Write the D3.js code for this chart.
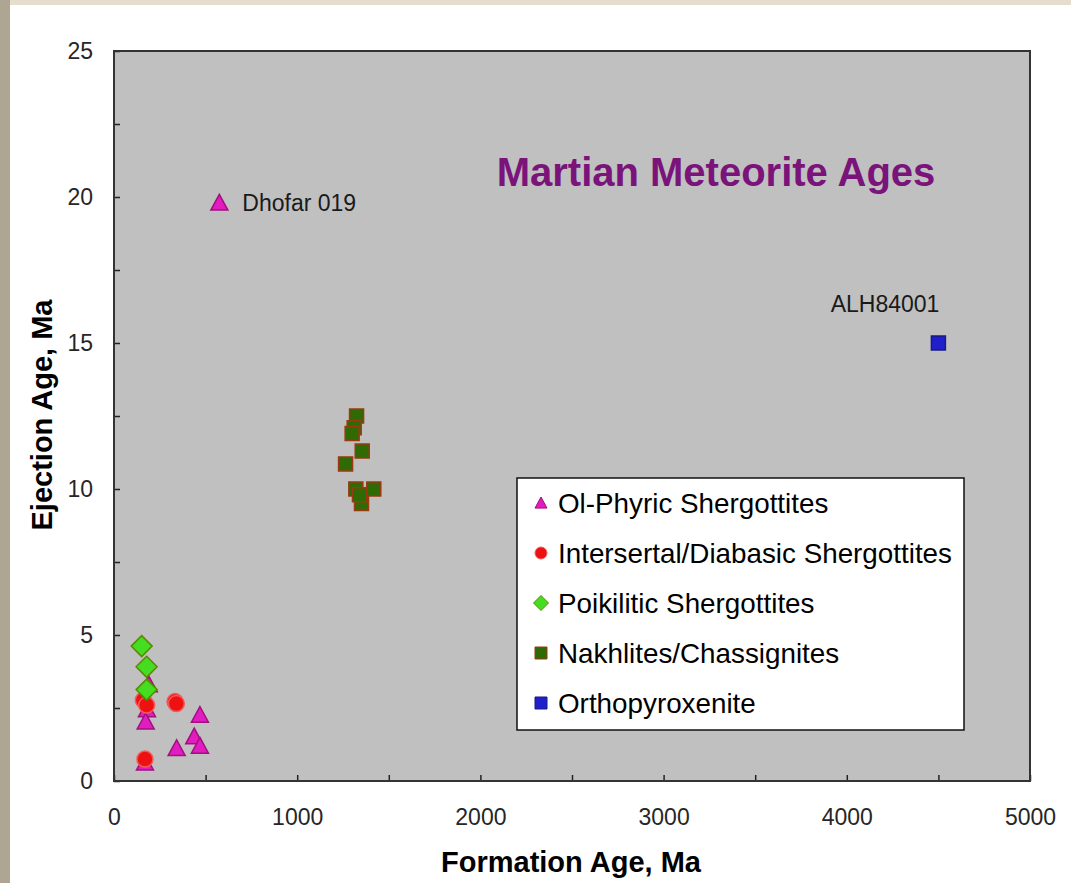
<!DOCTYPE html>
<html>
<head>
<meta charset="utf-8">
<script src="https://cdn.jsdelivr.net/npm/d3@7"></script>
<style>
  html, body { margin: 0; padding: 0; background: #fff; }
  svg { display: block; font-family: "Liberation Sans", Arial, sans-serif; }
</style>
</head>
<body>
<div id="chart"></div>
<script>
// values: [formation age Ma, ejection age Ma]
const olPhyric = [[575, 19.8], [190, 3.3], [180, 2.45], [173, 2.03], [469, 2.26], [342, 1.12], [438, 1.52], [469, 1.2], [169, 0.62]];
const intersertal = [[160, 2.77], [178, 2.6], [333, 2.72], [340, 2.65], [169, 0.75]];
const poikilitic = [[151, 4.62], [178, 3.91], [178, 3.13]];
const nakhlites = [[1324, 12.5], [1311, 12.1], [1300, 11.9], [1355, 11.3], [1264, 10.86], [1320, 10.0], [1418, 10.0], [1351, 9.5], [1340, 9.8]];
const orthopyroxenite = [[4500, 15.0]];

const seriesNames = ['Ol-Phyric Shergottites', 'Intersertal/Diabasic Shergottites', 'Poikilitic Shergottites', 'Nakhlites/Chassignites', 'Orthopyroxenite'];
const xTicks = [0, 500, 1000, 1500, 2000, 2500, 3000, 3500, 4000, 4500, 5000];
const yTicks = [0, 2.5, 5, 7.5, 10, 12.5, 15, 17.5, 20, 22.5, 25];

// named points that get a text label
const pointLabels = [
    {name: 'Dhofar 019', point: olPhyric[0], side: 'right'},
    {name: 'ALH84001', point: orthopyroxenite[0], side: 'above'}
];

const series = [
    {name: seriesNames[0], data: olPhyric, shape: 'triangle', fill: '#e11cc0', stroke: '#a0107e'},
    {name: seriesNames[1], data: intersertal, shape: 'circle', fill: '#ee1111', stroke: '#f45a5a'},
    {name: seriesNames[2], data: poikilitic, shape: 'diamond', fill: '#44dd22', stroke: '#5a8a00'},
    {name: seriesNames[3], data: nakhlites, shape: 'square', fill: '#2f6a04', stroke: '#9a3a10'},
    {name: seriesNames[4], data: orthopyroxenite, shape: 'square', fill: '#1f1fcc', stroke: '#1a1a80'}
];

const width = 1071, height = 883;
const margin = {top: 51, right: 41, bottom: 102, left: 114};
const innerW = width - margin.left - margin.right;
const innerH = height - margin.top - margin.bottom;

const svg = d3.select('#chart').append('svg')
    .attr('width', width)
    .attr('height', height);

// slide background strips
svg.append('rect').attr('x', 0).attr('y', 0).attr('width', width).attr('height', 5).attr('fill', '#e5dece');
svg.append('rect').attr('x', 0).attr('y', 0).attr('width', 10).attr('height', height).attr('fill', '#aea693');

const chart = svg.append('g')
    .attr('transform', `translate(${margin.left},${margin.top})`);

const xScale = d3.scaleLinear().domain([0, 5000]).range([0, innerW]);
const yScale = d3.scaleLinear().domain([0, 25]).range([innerH, 0]);

// plot area
chart.append('rect')
    .attr('width', innerW)
    .attr('height', innerH)
    .attr('fill', '#c0c0c0');

// ticks point inward, labels only on major ticks
const xAxis = d3.axisBottom(xScale)
    .tickValues(xTicks)
    .tickSizeInner(-6)
    .tickSizeOuter(0)
    .tickPadding(28)
    .tickFormat(d => d % 1000 === 0 ? d : '');

const yAxis = d3.axisLeft(yScale)
    .tickValues(yTicks)
    .tickSizeInner(-6)
    .tickSizeOuter(0)
    .tickPadding(21)
    .tickFormat(d => d % 5 === 0 ? d : '');

const xAxisG = chart.append('g')
    .attr('transform', `translate(0,${innerH})`)
    .call(xAxis);
const yAxisG = chart.append('g').call(yAxis);

[xAxisG, yAxisG].forEach(g => {
    g.select('.domain').remove();
    g.selectAll('.tick line').attr('stroke', '#222').attr('stroke-width', 1.5);
    g.selectAll('.tick text')
        .attr('font-family', '"Liberation Sans", Arial, sans-serif')
        .attr('font-size', 23)
        .attr('fill', '#262626');
});

// frame
chart.append('rect')
    .attr('width', innerW)
    .attr('height', innerH)
    .attr('fill', 'none')
    .attr('stroke', '#333')
    .attr('stroke-width', 2);

// axis titles
svg.append('text')
    .attr('x', margin.left + innerW / 2 - 1)
    .attr('y', 872)
    .attr('text-anchor', 'middle')
    .attr('font-size', 29)
    .attr('font-weight', 'bold')
    .attr('fill', '#000')
    .text('Formation Age, Ma');

svg.append('text')
    .attr('transform', 'translate(52,415) rotate(-90)')
    .attr('text-anchor', 'middle')
    .attr('font-size', 29)
    .attr('font-weight', 'bold')
    .attr('fill', '#000')
    .text('Ejection Age, Ma');

// title
chart.append('text')
    .attr('x', 716 - margin.left)
    .attr('y', 186 - margin.top)
    .attr('text-anchor', 'middle')
    .attr('font-size', 40)
    .attr('font-weight', 'bold')
    .attr('fill', '#7a137a')
    .text('Martian Meteorite Ages');

function markerPath(shape, size) {
    const h = size / 2;
    if (shape === 'triangle') return `M0,${-h}L${h},${h * 0.85}L${-h},${h * 0.85}Z`;
    if (shape === 'diamond') return `M0,${-h}L${h},0L0,${h}L${-h},0Z`;
    if (shape === 'square') return `M${-h},${-h}H${h}V${h}H${-h}Z`;
    return d3.symbol(d3.symbolCircle, Math.PI * h * h)();
}

const markerSize = {triangle: 17, circle: 16, diamond: 21, square: 14};

// draw the series, nakhlites/orthopyroxenite first, shergottites on top
const drawOrder = [3, 4, 0, 1, 2];
drawOrder.forEach(i => {
    const s = series[i];
    chart.append('g')
        .selectAll('path')
        .data(s.data)
        .join('path')
        .attr('transform', d => `translate(${xScale(d[0])},${yScale(d[1])})`)
        .attr('d', markerPath(s.shape, markerSize[s.shape]))
        .attr('fill', s.fill)
        .attr('stroke', s.stroke)
        .attr('stroke-width', 1.5);
});

// point labels
pointLabels.forEach(l => {
    const px = xScale(l.point[0]), py = yScale(l.point[1]);
    chart.append('text')
        .attr('x', l.side === 'right' ? px + 23 : px + 1)
        .attr('y', l.side === 'right' ? py + 8 : py - 31)
        .attr('text-anchor', l.side === 'right' ? 'start' : 'end')
        .attr('font-size', 23)
        .attr('fill', '#1a1a1a')
        .text(l.name);
});

// legend
const legend = svg.append('g').attr('transform', 'translate(517,478)');
legend.append('rect')
    .attr('width', 447)
    .attr('height', 252)
    .attr('fill', '#fff')
    .attr('stroke', '#111')
    .attr('stroke-width', 1.5);

const legendItems = legend.selectAll('.legend-item')
    .data(series)
    .join('g')
    .attr('class', 'legend-item')
    .attr('transform', (d, i) => `translate(24,${25 + i * 50})`);

legendItems.append('path')
    .attr('d', d => markerPath(d.shape, d.shape === 'diamond' ? 15 : 12))
    .attr('fill', d => d.fill)
    .attr('stroke', d => d.stroke)
    .attr('stroke-width', 1);

legendItems.append('text')
    .attr('x', 17)
    .attr('y', 10)
    .attr('font-size', 27.8)
    .attr('fill', '#000')
    .text(d => d.name);
</script>
</body>
</html>
